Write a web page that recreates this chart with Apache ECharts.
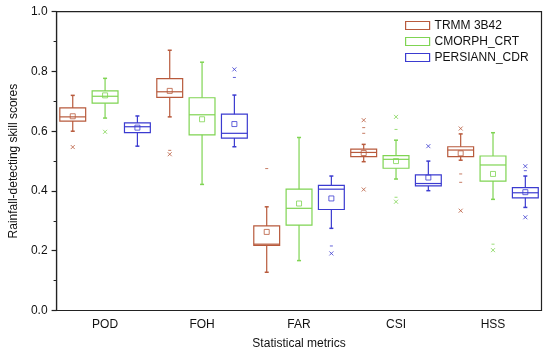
<!DOCTYPE html>
<html><head><meta charset="utf-8">
<script src="https://cdn.jsdelivr.net/npm/echarts@6/dist/echarts.min.js"></script>
<style>html,body{margin:0;padding:0;background:#fff}#c{width:550px;height:356px}</style>
</head><body><div id="c"></div>
<script>
const categories = ['POD','FOH','FAR','CSI','HSS'];
const products = ['TRMM 3B42','CMORPH_CRT','PERSIANN_CDR'];
const colors = ['#b85a3c','#7fd452','#3b3bd0'];
// [whisker low, Q1, median, Q3, whisker high] for each metric
const trmmBox = [
  [0.600,0.634,0.648,0.678,0.720],
  [0.648,0.713,0.732,0.776,0.871],
  [0.128,0.218,0.222,0.283,0.347],
  [0.498,0.515,0.529,0.540,0.556],
  [0.503,0.515,0.537,0.548,0.591]
];
const trmmMean = [0.650,0.735,0.263,0.527,0.526];
const cmorphBox = [
  [0.644,0.694,0.717,0.735,0.777],
  [0.422,0.588,0.655,0.712,0.831],
  [0.167,0.286,0.342,0.406,0.579],
  [0.440,0.476,0.506,0.518,0.570],
  [0.372,0.433,0.487,0.517,0.595]
];
const cmorphMean = [0.720,0.640,0.358,0.500,0.457];
const persiannBox = [
  [0.550,0.595,0.615,0.628,0.651],
  [0.548,0.577,0.593,0.657,0.721],
  [0.275,0.338,0.406,0.419,0.450],
  [0.401,0.417,0.425,0.454,0.500],
  [0.345,0.377,0.394,0.411,0.450]
];
const persiannMean = [0.612,0.624,0.375,0.445,0.396];
// outliers: [metric index, value]
const trmmCross = [[0,0.547],[1,0.523],[3,0.405],[3,0.637],[4,0.609],[4,0.334]];
const trmmDash = [[1,0.536],[2,0.475],[3,0.612],[3,0.593],[4,0.457],[4,0.429]];
const cmorphCross = [[0,0.598],[3,0.648],[3,0.364],[4,0.202]];
const cmorphDash = [[3,0.606],[3,0.379],[4,0.222]];
const persiannCross = [[1,0.807],[2,0.191],[3,0.550],[4,0.483],[4,0.312]];
const persiannDash = [[1,0.780],[2,0.216],[4,0.468]];

const yTicks = [0,0.2,0.4,0.6,0.8,1.0];

const boxes = [trmmBox, cmorphBox, persiannBox];
const means = [trmmMean, cmorphMean, persiannMean];
const crosses = [trmmCross, cmorphCross, persiannCross];
const dashes = [trmmDash, cmorphDash, persiannDash];

const slots = [];
categories.forEach(c => products.forEach((p, j) => slots.push(c + '|' + j)));

function renderBox(params, api) {
  const slot = api.value(0);
  const lo = api.coord([slot, api.value(1)]);
  const q1 = api.coord([slot, api.value(2)]);
  const md = api.coord([slot, api.value(3)]);
  const q3 = api.coord([slot, api.value(4)]);
  const hi = api.coord([slot, api.value(5)]);
  const mn = api.coord([slot, api.value(6)]);
  const bw = api.size([1, 0])[0] * 0.8;
  const x = lo[0];
  const color = colors[params.seriesIndex];
  const st = (w) => ({ stroke: color, fill: 'none', lineWidth: w || 1.2 });
  return { type: 'group', children: [
    { type: 'line', shape: { x1: x, y1: hi[1], x2: x, y2: q3[1] }, style: st() },
    { type: 'line', shape: { x1: x, y1: q1[1], x2: x, y2: lo[1] }, style: st() },
    { type: 'line', shape: { x1: x - 2, y1: hi[1], x2: x + 2, y2: hi[1] }, style: st(1.5) },
    { type: 'line', shape: { x1: x - 2, y1: lo[1], x2: x + 2, y2: lo[1] }, style: st(1.5) },
    { type: 'rect', shape: { x: x - bw / 2, y: q3[1], width: bw, height: q1[1] - q3[1] }, style: st() },
    { type: 'line', shape: { x1: x - bw / 2, y1: md[1], x2: x + bw / 2, y2: md[1] }, style: st() },
    { type: 'rect', shape: { x: mn[0] - 2.5, y: mn[1] - 2.5, width: 5, height: 5 }, style: st(0.8) }
  ]};
}

const series = [];
products.forEach((p, j) => {
  series.push({
    name: p, type: 'custom', renderItem: renderBox,
    itemStyle: { color: '#fff', borderColor: colors[j], borderWidth: 1 },
    encode: { x: 0, y: [1, 2, 3, 4, 5, 6] },
    data: boxes[j].map((b, g) => [g * 3 + j].concat(b, [means[j][g]]))
  });
});
products.forEach((p, j) => {
  series.push({
    type: 'scatter', symbol: 'path://M0,0L10,10M10,0L0,10', symbolSize: 4,
    itemStyle: { color: 'none', borderColor: colors[j], borderWidth: 1 },
    data: crosses[j].map(o => [o[0] * 3 + j, o[1]]), silent: true, z: 3
  });
  series.push({
    type: 'scatter', symbol: 'rect', symbolSize: [3, 1],
    itemStyle: { color: colors[j] },
    data: dashes[j].map(o => [o[0] * 3 + j, o[1]]), silent: true, z: 3
  });
});

const font = "'Liberation Sans', Arial, sans-serif";
const chart = echarts.init(document.getElementById('c'), null, { renderer: 'canvas' });
chart.setOption({
  animation: false,
  backgroundColor: '#fff',
  textStyle: { fontFamily: font },
  grid: { left: 51, right: 8.5, top: 11.7, bottom: 45.5, show: true, borderColor: '#222', borderWidth: 1.2, backgroundColor: 'transparent' },
  legend: {
    orient: 'vertical', left: 405, top: 19, padding: 0,
    itemWidth: 24, itemHeight: 8, itemGap: 3, itemTextGap: 4,
    textStyle: { fontSize: 12, color: '#111', fontFamily: font, lineHeight: 13 },
    data: products.map((n, i) => ({ name: n, icon: 'rect', itemStyle: { color: '#fff', borderColor: colors[i], borderWidth: 1.2 } }))
  },
  xAxis: {
    type: 'category', data: slots,
    name: 'Statistical metrics', nameLocation: 'middle', nameGap: 27,
    nameTextStyle: { fontSize: 12, color: '#111', fontFamily: font },
    axisLine: { lineStyle: { color: '#222', width: 1.2 } },
    axisTick: { alignWithLabel: true, interval: 0, length: 5, lineStyle: { color: '#222', width: 1.2 } },
    axisLabel: { interval: 0, margin: 8, fontSize: 12, color: '#111', fontFamily: font,
      formatter: (v, i) => (i % 3 === 1 ? categories[(i - 1) / 3] : '') },
    splitLine: { show: false }
  },
  yAxis: {
    type: 'value', min: yTicks[0], max: yTicks[yTicks.length - 1], interval: 0.2,
    name: 'Rainfall-detecting skill scores', nameLocation: 'middle', nameGap: 32,
    nameTextStyle: { fontSize: 12, color: '#111', fontFamily: font },
    axisLine: { show: true, lineStyle: { color: '#222', width: 1.2 } },
    axisTick: { show: true, length: 5, lineStyle: { color: '#222', width: 1.2 } },
    minorTick: { show: true, splitNumber: 2, length: 3, lineStyle: { color: '#222', width: 1 } },
    axisLabel: { margin: 9, fontSize: 12, color: '#111', fontFamily: font, formatter: v => v.toFixed(1) },
    splitLine: { show: false }
  },
  series: series
});
</script></body></html>
